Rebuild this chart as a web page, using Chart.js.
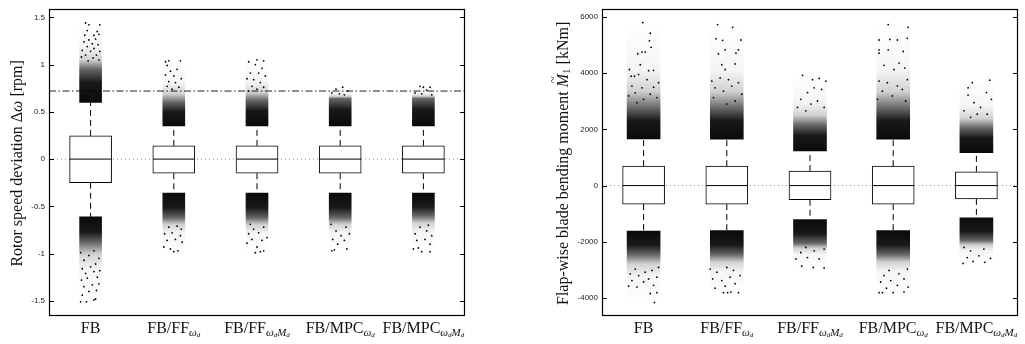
<!DOCTYPE html>
<html>
<head>
<meta charset="utf-8">
<script src="https://cdn.jsdelivr.net/npm/chart.js@4.4.0/dist/chart.umd.min.js"></script>
<style>
  body { margin: 0; background: #fff; width: 1025px; height: 344px; overflow: hidden; position: relative; }
  .panel { position: absolute; top: 0; height: 344px; }
  #leftPanel { left: 0; width: 512px; }
  #rightPanel { left: 512px; width: 513px; }
</style>
</head>
<body>
<div class="panel" id="leftPanel"><canvas id="rpmChart"></canvas></div>
<div class="panel" id="rightPanel"><canvas id="momentChart"></canvas></div>
<script>
// categories (main text + subscript, "_" marks a second level subscript)
const labelMain = ['FB', 'FB/FF', 'FB/FF', 'FB/MPC', 'FB/MPC'];
const labelSub = ['', 'ω_d', 'ω_dM_d', 'ω_d', 'ω_dM_d'];

// rotor speed deviation [rpm]
const rpmTicks = [-1.5, -1, -0.5, 0, 0.5, 1, 1.5];
const rpmQ1 = [-0.25, -0.15, -0.15, -0.15, -0.15];
const rpmQ3 = [0.245, 0.14, 0.14, 0.14, 0.14];
const rpmMedian = [0, 0, 0, 0, 0];
const rpmWhiskerLo = [-0.61, -0.36, -0.36, -0.36, -0.36];
const rpmWhiskerHi = [0.60, 0.35, 0.35, 0.35, 0.35];
const rpmUpperDense = [0.95, 0.60, 0.62, 0.64, 0.64];
const rpmUpperTip = [1.45, 1.05, 1.05, 0.76, 0.77];
const rpmLowerDense = [-0.88, -0.62, -0.62, -0.62, -0.60];
const rpmLowerTip = [-1.51, -0.98, -0.99, -0.97, -0.98];
const rpmLimit = 0.72;
const rpmUpperDots = [
  [[-0.06,1.44],[-0.02,1.42],[0.11,1.42],[-0.04,1.36],[0.08,1.35],[-0.07,1.31],[0.04,1.31],[0.10,1.32],[-0.02,1.26],[0.06,1.27],[-0.08,1.24],[0.02,1.22],[0.09,1.21],[-0.04,1.19],[0.04,1.17],[-0.10,1.15],[0.11,1.14],[0.0,1.14],[-0.06,1.10],[0.07,1.10],[-0.11,1.08],[0.03,1.07],[0.10,1.05],[-0.03,1.04]],
  [[-0.10,1.03],[-0.06,1.04],[0.08,1.04],[-0.08,0.99],[0.04,0.95],[-0.04,0.93],[-0.10,0.89],[0.0,0.88],[0.09,0.85],[-0.06,0.82],[0.02,0.81],[-0.08,0.77],[0.06,0.76],[-0.02,0.74]],
  [[-0.10,1.03],[0.0,1.05],[0.08,1.04],[-0.02,1.0],[0.06,0.96],[-0.08,0.91],[0.02,0.91],[0.10,0.88],[-0.12,0.85],[-0.04,0.84],[0.04,0.81],[-0.06,0.77],[0.08,0.76],[0.0,0.74],[-0.10,0.72]],
  [[0.03,0.76],[-0.05,0.74],[0.09,0.72],[-0.10,0.70],[-0.01,0.69],[0.05,0.68]],
  [[-0.04,0.77],[0.0,0.76],[0.08,0.76],[0.04,0.73],[-0.10,0.70],[-0.02,0.69],[0.10,0.68]]
];
const rpmLowerDots = [
  [[-0.12,-1.51],[-0.05,-1.51],[0.04,-1.49],[0.06,-1.48],[-0.10,-1.44],[-0.02,-1.40],[0.07,-1.39],[-0.08,-1.35],[0.02,-1.33],[0.10,-1.32],[-0.11,-1.28],[-0.04,-1.26],[0.08,-1.25],[-0.06,-1.21],[0.04,-1.19],[0.11,-1.18],[-0.10,-1.16],[0.0,-1.14],[0.06,-1.11],[-0.08,-1.07],[0.10,-1.05],[-0.02,-1.02],[-0.12,-0.99],[0.04,-0.97]],
  [[0.0,-0.98],[0.05,-0.97],[-0.12,-0.93],[-0.04,-0.95],[0.10,-0.88],[-0.08,-0.86],[0.02,-0.85],[0.08,-0.81],[-0.11,-0.79],[-0.02,-0.78],[0.09,-0.74],[-0.06,-0.72],[0.04,-0.71]],
  [[-0.02,-0.99],[0.04,-0.98],[0.08,-0.97],[-0.12,-0.89],[0.0,-0.93],[-0.06,-0.85],[0.06,-0.86],[0.12,-0.83],[-0.10,-0.79],[0.02,-0.78],[-0.04,-0.74],[0.08,-0.72],[-0.08,-0.69]],
  [[-0.10,-0.97],[-0.07,-0.96],[0.08,-0.95],[-0.03,-0.90],[0.05,-0.86],[-0.09,-0.85],[0.01,-0.81],[0.11,-0.79],[-0.05,-0.76],[0.07,-0.72],[-0.11,-0.69]],
  [[-0.12,-0.95],[-0.02,-0.98],[0.08,-0.98],[-0.06,-0.94],[0.08,-0.90],[-0.08,-0.86],[0.02,-0.85],[0.10,-0.81],[-0.10,-0.79],[0.04,-0.76],[-0.04,-0.72],[0.06,-0.70]]
];

// flap-wise blade bending moment [kNm]
const momentTicks = [-4000, -2000, 0, 2000, 4000, 6000];
const momentQ1 = [-660, -660, -505, -660, -470];
const momentQ3 = [690, 690, 515, 690, 490];
const momentMedian = [0, 0, 0, 0, 0];
const momentWhiskerLo = [-1620, -1600, -1210, -1600, -1150];
const momentWhiskerHi = [1660, 1650, 1230, 1650, 1170];
const momentUpperDense = [2750, 2750, 2150, 2750, 2050];
const momentUpperTip = [5800, 5730, 3920, 5730, 3750];
const momentLowerDense = [-2450, -2450, -2050, -2450, -1950];
const momentLowerTip = [-4160, -3810, -2930, -3810, -2770];
const momentUpperDots = [
  [[-0.01,5800],[0.08,5420],[0.07,5150],[0.09,4920],[-0.07,4690],[-0.02,4750],[0.02,4750],[-0.04,4300],[-0.17,4130],[0.06,4090],[0.12,4100],[-0.15,3890],[-0.11,3890],[-0.06,3950],[0.04,3770],[0.18,3660],[-0.14,3540],[-0.02,3480],[0.12,3500],[-0.10,3300],[0.08,3250],[0.16,3130],[-0.18,3190],[0.0,3070],[-0.08,2950]],
  [[-0.11,5730],[0.07,5630],[-0.13,5220],[-0.05,5170],[0.17,5180],[-0.02,4830],[-0.10,4690],[0.14,4830],[0.11,4710],[0.10,4330],[-0.06,4300],[-0.02,4130],[-0.08,3830],[0.02,3770],[-0.18,3720],[0.14,3660],[-0.14,3480],[0.06,3540],[-0.04,3360],[0.18,3250],[-0.16,3130],[0.10,3010],[0.0,2900]],
  [[-0.09,3920],[0.03,3770],[0.11,3810],[0.19,3720],[0.14,3420],[-0.03,3310],[0.05,3480],[-0.11,3070],[0.09,3010],[0.01,2900],[-0.15,2780],[0.17,2780],[-0.05,2660]],
  [[-0.06,5730],[0.18,5630],[-0.17,5180],[-0.04,5200],[0.05,5180],[0.17,5240],[-0.17,4830],[-0.06,4830],[0.12,4770],[-0.17,4710],[0.07,4360],[-0.11,4280],[0.01,4130],[0.14,4180],[-0.17,3720],[0.17,3770],[-0.07,3660],[0.05,3540],[-0.13,3360],[0.11,3420],[-0.01,3190],[-0.19,3070],[0.15,3010]],
  [[-0.05,3660],[0.16,3750],[-0.10,3480],[0.12,3310],[-0.10,3220],[-0.03,2950],[0.18,3070],[-0.15,2660],[0.05,2780],[0.13,2540],[-0.07,2430],[0.01,2540]]
];
const momentLowerDots = [
  [[0.13,-4160],[0.08,-3840],[0.16,-3810],[-0.18,-3580],[-0.08,-3610],[0.12,-3550],[0.0,-3430],[-0.14,-3380],[0.06,-3320],[0.16,-3260],[-0.06,-3200],[-0.16,-3140],[0.02,-3080],[0.10,-3020],[-0.10,-2970],[0.18,-2910]],
  [[-0.04,-3810],[0.01,-3810],[0.05,-3790],[0.14,-3810],[-0.14,-3650],[-0.02,-3580],[0.10,-3490],[-0.17,-3320],[-0.06,-3380],[0.04,-3260],[0.16,-3200],[-0.12,-3080],[0.08,-3020],[-0.20,-2970],[0.0,-2910]],
  [[-0.10,-2870],[0.04,-2910],[0.17,-2930],[-0.17,-2610],[-0.03,-2560],[0.11,-2610],[-0.11,-2380],[0.05,-2320],[0.17,-2260],[-0.05,-2200]],
  [[-0.17,-3810],[-0.13,-3810],[0.0,-3810],[0.13,-3790],[0.18,-3610],[-0.08,-3650],[0.05,-3550],[-0.15,-3430],[-0.03,-3380],[0.13,-3320],[-0.11,-3200],[0.07,-3140],[-0.05,-3020],[0.17,-2970]],
  [[-0.16,-2770],[-0.04,-2700],[0.10,-2730],[-0.11,-2560],[0.03,-2500],[0.17,-2590],[-0.07,-2320],[0.09,-2260],[-0.15,-2200]]
];

const serif = '"Liberation Serif", "Times New Roman", serif';
const boxHalf = 0.25;

// fading fill for the outlier clouds
function cloudFill(start, dense, tip) {
  return function(c) {
    const ch = c.chart;
    const ys = ch.scales.y;
    if (!ch.chartArea || !ys) return 'rgba(0,0,0,0.85)';
    const i = c.dataIndex;
    const a = ys.getPixelForValue(start[i]);
    const d = ys.getPixelForValue(dense[i]);
    const b = ys.getPixelForValue(tip[i]);
    const f = Math.min(0.95, Math.max(0.02, (d - a) / (b - a)));
    const g = ch.ctx.createLinearGradient(0, a, 0, b);
    g.addColorStop(0, 'rgba(0,0,0,0.96)');
    g.addColorStop(f * 0.6, 'rgba(0,0,0,0.9)');
    g.addColorStop(f, 'rgba(0,0,0,0.6)');
    g.addColorStop(f + (1 - f) * 0.2, 'rgba(0,0,0,0.18)');
    g.addColorStop(f + (1 - f) * 0.45, 'rgba(0,0,0,0.04)');
    g.addColorStop(1, 'rgba(0,0,0,0)');
    return g;
  };
}

function drawRuns(ctx, runs, x, y) {
  runs.forEach(r => {
    ctx.font = r.font;
    ctx.fillText(r.text, x, y + r.dy);
    x += ctx.measureText(r.text).width;
  });
}

function measureRuns(ctx, runs) {
  let w = 0;
  runs.forEach(r => { ctx.font = r.font; w += ctx.measureText(r.text).width; });
  return w;
}

function labelRuns(main, sub) {
  const runs = [{ text: main, font: '16px ' + serif, dy: 0 }];
  for (let k = 0; k < sub.length; k++) {
    if (sub[k] === '_') {
      runs.push({ text: sub[k + 1], font: 'italic 7px ' + serif, dy: 4 });
      k++;
    } else {
      runs.push({ text: sub[k], font: 'italic 11px ' + serif, dy: 2.5 });
    }
  }
  return runs;
}

// frame, inward ticks, category labels and y title, matlab style
const matlabAxes = {
  id: 'matlabAxes',
  afterDraw(chart, args, opts) {
    const ctx = chart.ctx;
    const area = chart.chartArea;
    const xs = chart.scales.x;
    const ys = chart.scales.y;
    ctx.save();
    ctx.strokeStyle = '#000';
    ctx.lineWidth = 1;
    ys.ticks.forEach(t => {
      const py = Math.round(ys.getPixelForValue(t.value)) + 0.5;
      ctx.beginPath();
      ctx.moveTo(area.left, py); ctx.lineTo(area.left + 5, py);
      ctx.moveTo(area.right - 5, py); ctx.lineTo(area.right, py);
      ctx.stroke();
    });
    ctx.lineWidth = 1.2;
    ctx.strokeRect(Math.round(area.left) + 0.5, Math.round(area.top) + 0.5,
      Math.round(area.right - area.left) - 1, Math.round(area.bottom - area.top) - 1);

    ctx.fillStyle = '#111';
    ctx.textBaseline = 'alphabetic';
    ctx.textAlign = 'left';
    labelMain.forEach((m, i) => {
      const runs = labelRuns(m, labelSub[i]);
      const w = measureRuns(ctx, runs);
      const cx = xs.getPixelForValue(i + 1);
      drawRuns(ctx, runs, cx - w / 2, area.bottom + 17);
    });

    ctx.translate(opts.titleX, (area.top + area.bottom) / 2 + 1);
    ctx.rotate(-Math.PI / 2);
    ctx.textBaseline = 'middle';
    const runs = opts.title;
    const w = measureRuns(ctx, runs);
    let x = -w / 2;
    runs.forEach(r => {
      ctx.font = r.font;
      ctx.fillText(r.text, x, r.dy);
      const rw = ctx.measureText(r.text).width;
      if (r.tilde) {
        ctx.font = '13px ' + serif;
        ctx.textAlign = 'center';
        ctx.fillText('~', x + rw / 2 + 1, -10);
        ctx.textAlign = 'left';
      }
      x += rw;
    });
    ctx.restore();
  }
};

function buildChart(canvasId, d) {
  const n = labelMain.length;
  const idx = labelMain.map((_, i) => i + 1);
  const medianLine = [];
  const whiskerLine = [];
  idx.forEach((x, i) => {
    medianLine.push({ x: x - boxHalf, y: d.median[i] }, { x: x + boxHalf, y: d.median[i] }, { x: x, y: null });
    whiskerLine.push({ x: x, y: d.q3[i] }, { x: x, y: d.whiskerHi[i] }, { x: x, y: null });
    whiskerLine.push({ x: x, y: d.q1[i] }, { x: x, y: d.whiskerLo[i] }, { x: x, y: null });
  });
  const dots = [];
  d.upperDots.concat(d.lowerDots).forEach((list, k) => {
    const i = k % n;
    list.forEach(p => dots.push({ x: i + 1 + p[0], y: p[1] }));
  });

  const datasets = [
    {
      type: 'line', order: 10,
      data: [{ x: 0.5, y: 0 }, { x: 5.5, y: 0 }],
      borderColor: '#888', borderWidth: 1, borderDash: [1, 3], pointRadius: 0
    },
    {
      type: 'bar', order: 6, grouped: false, barThickness: d.cloudWidth,
      data: idx.map((x, i) => ({ x: x, y: [d.whiskerHi[i], d.upperTip[i]] })),
      backgroundColor: cloudFill(d.whiskerHi, d.upperDense, d.upperTip), borderWidth: 0
    },
    {
      type: 'bar', order: 6, grouped: false, barThickness: d.cloudWidth,
      data: idx.map((x, i) => ({ x: x, y: [d.lowerTip[i], d.whiskerLo[i]] })),
      backgroundColor: cloudFill(d.whiskerLo, d.lowerDense, d.lowerTip), borderWidth: 0
    },
    {
      type: 'scatter', order: 5, data: dots,
      pointRadius: 0.9, pointBackgroundColor: '#000', pointBorderWidth: 0
    },
    {
      type: 'line', order: 3, data: whiskerLine, spanGaps: false,
      borderColor: '#000', borderWidth: 1, borderDash: [6, 4], pointRadius: 0
    },
    {
      type: 'bar', order: 2, grouped: false, barThickness: 42,
      data: idx.map((x, i) => ({ x: x, y: [d.q1[i], d.q3[i]] })),
      backgroundColor: '#fff', borderColor: '#000', borderWidth: 1, borderSkipped: false
    },
    {
      type: 'line', order: 1, data: medianLine, spanGaps: false,
      borderColor: '#000', borderWidth: 1, pointRadius: 0
    }
  ];
  if (d.limit !== undefined) {
    datasets.push({
      type: 'line', order: 7,
      data: [{ x: 0.5, y: d.limit }, { x: 5.5, y: d.limit }],
      borderColor: '#222', borderWidth: 1, borderDash: [7, 2.5, 1.5, 2.5], pointRadius: 0
    });
  }

  return new Chart(document.getElementById(canvasId), {
    type: 'bar',
    data: { datasets: datasets },
    options: {
      responsive: true,
      maintainAspectRatio: false,
      animation: false,
      events: [],
      layout: { padding: d.padding },
      plugins: {
        legend: { display: false },
        tooltip: { enabled: false },
        matlabAxes: { title: d.title, titleX: d.titleX }
      },
      scales: {
        x: { type: 'linear', min: 0.5, max: 5.5, offset: false, display: false },
        y: {
          min: d.min, max: d.max,
          grid: { display: false, drawTicks: false },
          border: { display: false },
          afterBuildTicks: s => { s.ticks = d.ticks.map(v => ({ value: v })); },
          afterFit: s => { s.width = d.axisWidth; },
          ticks: {
            padding: 4,
            color: '#222',
            font: { family: '"Liberation Sans", Arial, sans-serif', size: 8 },
            callback: v => String(v)
          }
        }
      }
    },
    plugins: [matlabAxes]
  });
}

buildChart('rpmChart', {
  ticks: rpmTicks, min: -1.66, max: 1.59,
  q1: rpmQ1, q3: rpmQ3, median: rpmMedian,
  whiskerLo: rpmWhiskerLo, whiskerHi: rpmWhiskerHi,
  upperDense: rpmUpperDense, upperTip: rpmUpperTip,
  lowerDense: rpmLowerDense, lowerTip: rpmLowerTip,
  upperDots: rpmUpperDots, lowerDots: rpmLowerDots,
  limit: rpmLimit,
  cloudWidth: 22,
  axisWidth: 49,
  padding: { left: 0, top: 5, right: 47, bottom: 28 },
  titleX: 18,
  title: [
    { text: 'Rotor speed deviation Δ', font: '16px ' + serif, dy: 0 },
    { text: 'ω', font: 'italic 16px ' + serif, dy: 0 },
    { text: ' [rpm]', font: '16px ' + serif, dy: 0 }
  ]
});

buildChart('momentChart', {
  ticks: momentTicks, min: -4640, max: 6290,
  q1: momentQ1, q3: momentQ3, median: momentMedian,
  whiskerLo: momentWhiskerLo, whiskerHi: momentWhiskerHi,
  upperDense: momentUpperDense, upperTip: momentUpperTip,
  lowerDense: momentLowerDense, lowerTip: momentLowerTip,
  upperDots: momentUpperDots, lowerDots: momentLowerDots,
  cloudWidth: 33,
  axisWidth: 90,
  padding: { left: 0, top: 5, right: 7, bottom: 28 },
  titleX: 52,
  title: [
    { text: 'Flap-wise blade bending moment ', font: '16px ' + serif, dy: 0 },
    { text: 'M', font: 'italic 16px ' + serif, dy: 0, tilde: true },
    { text: '1', font: '11px ' + serif, dy: 3 },
    { text: ' [kNm]', font: '16px ' + serif, dy: 0 }
  ]
});
</script>
</body>
</html>
